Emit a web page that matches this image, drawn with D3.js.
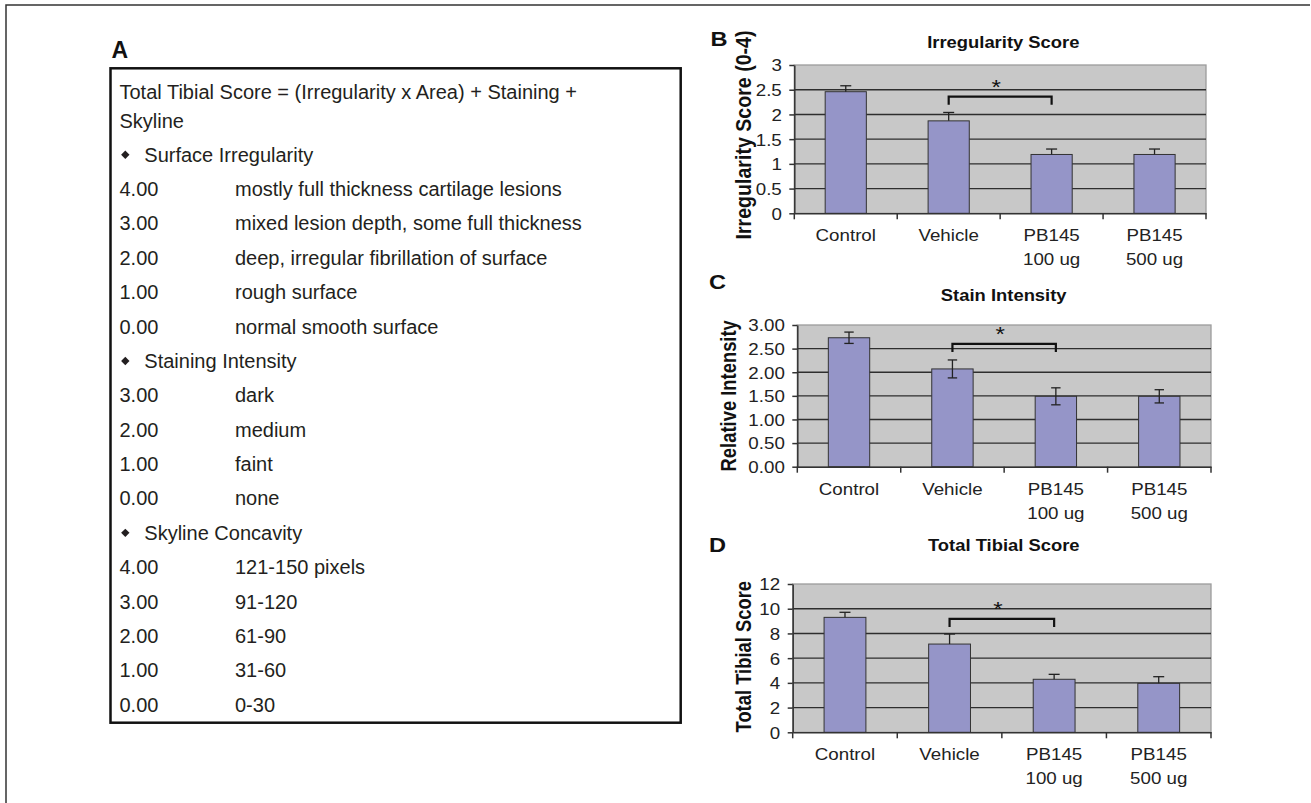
<!DOCTYPE html>
<html><head><meta charset="utf-8">
<script src="https://cdn.jsdelivr.net/npm/d3@7"></script>
<style>body{margin:0;background:#fff;} svg{display:block;}</style>
</head><body><svg id="c" width="1311" height="803"></svg>
<script>
// ---------------- DATA ----------------
const categories = ["Control", "Vehicle", "PB145 100 ug", "PB145 500 ug"];
const categoryLines = [["Control"], ["Vehicle"], ["PB145", "100 ug"], ["PB145", "500 ug"]];

const irregularityMeans = [2.46, 1.87, 1.19, 1.19];
const irregularityErr   = [0.12, 0.17, 0.11, 0.11];
const irregularityTicks = [0, 0.5, 1, 1.5, 2, 2.5, 3];

const stainMeans = [2.73, 2.07, 1.49, 1.49];
const stainErr   = [0.12, 0.19, 0.18, 0.14];
const stainTicks = [0, 0.5, 1, 1.5, 2, 2.5, 3];

const totalMeans = [9.30, 7.14, 4.29, 3.96];
const totalErr   = [0.41, 0.81, 0.40, 0.54];
const totalTicks = [0, 2, 4, 6, 8, 10, 12];

// significance bracket: from / to category and level (data units)
const irregularitySig = ["Vehicle", "PB145 100 ug", 2.36];
const stainSig        = ["Vehicle", "PB145 100 ug", 2.60];
const totalSig        = ["Vehicle", "PB145 100 ug", 9.17];

const tableHeader = ["Total Tibial Score = (Irregularity x Area) + Staining +", "Skyline"];
const sectionTitles = ["Surface Irregularity", "Staining Intensity", "Skyline Concavity"];
const irregularityScale = [["4.00", "mostly full thickness cartilage lesions"],
                           ["3.00", "mixed lesion depth, some full thickness"],
                           ["2.00", "deep, irregular fibrillation of surface"],
                           ["1.00", "rough surface"],
                           ["0.00", "normal smooth surface"]];
const stainingScale = [["3.00", "dark"], ["2.00", "medium"], ["1.00", "faint"], ["0.00", "none"]];
const skylineScale = [["4.00", "121-150 pixels"], ["3.00", "91-120"], ["2.00", "61-90"], ["1.00", "31-60"], ["0.00", "0-30"]];

// ---------------- DRAW ----------------
const FONT = '"Liberation Sans", Arial, Helvetica, sans-serif';
const SX = 1.15; // horizontal stretch of the chart panels
const svg = d3.select("#c").attr("font-family", FONT);

// outer frame (top + left)
svg.append("path").attr("d", "M6,803 L6,5 L1310,5").attr("fill", "none")
  .attr("stroke", "#333").attr("stroke-width", 1.5);

// ---- Panel A: table ----
const TXT = "#231f20";
svg.append("text").attr("x", 111.5).attr("y", 58.3).attr("font-size", 23).attr("font-weight", "bold")
  .attr("fill", "#111").text("A");
svg.append("rect").attr("x", 110.5).attr("y", 68.3).attr("width", 570.2).attr("height", 654.4)
  .attr("fill", "none").attr("stroke", "#111").attr("stroke-width", 2.5);

const tA = svg.append("g").attr("font-size", 20).attr("fill", TXT);
tA.append("text").attr("x", 119.5).attr("y", 99).text(tableHeader[0]);
tA.append("text").attr("x", 119.5).attr("y", 127.7).text(tableHeader[1]);

const rows = [];
[irregularityScale, stainingScale, skylineScale].forEach((sc, si) => {
  rows.push({ bullet: true, label: sectionTitles[si] });
  sc.forEach(r => rows.push({ bullet: false, score: r[0], label: r[1] }));
});
const rowY = i => 161.7 + 34.375 * i;
rows.forEach((r, i) => {
  const yy = rowY(i);
  if (r.bullet) {
    const cx = 125.3, cy = yy - 7;
    tA.append("path").attr("d", `M${cx},${cy - 4.2}L${cx + 4.2},${cy}L${cx},${cy + 4.2}L${cx - 4.2},${cy}Z`).attr("fill", TXT);
    tA.append("text").attr("x", 144.3).attr("y", yy).text(r.label);
  } else {
    tA.append("text").attr("x", 119.5).attr("y", yy).text(r.score);
    tA.append("text").attr("x", 235).attr("y", yy).text(r.label);
  }
});

// ---- Bar chart panels ----
function stretched(sel, x, y, extra) {
  return sel.attr("x", 0).attr("y", 0)
    .attr("transform", `translate(${x},${y}) scale(${SX},1)` + (extra || ""));
}

function drawChart(cfg) {
  const g = svg.append("g");
  const x = d3.scaleBand().domain(categories).range([cfg.left, cfg.right]).paddingInner(0.6).paddingOuter(0.3);
  const xb = d3.scaleBand().domain(categories).range([cfg.left, cfg.right]).padding(0);
  const ymax = d3.max(cfg.ticks);
  const y = d3.scaleLinear().domain([0, ymax]).range([cfg.bottom, cfg.top]);

  // panel letter
  stretched(g.append("text"), cfg.lx, cfg.ly).attr("font-size", 20.5).attr("font-weight", "bold")
    .attr("fill", "#111").text(cfg.letter);
  // title
  stretched(g.append("text"), cfg.tx, cfg.ty).attr("font-size", 16).attr("font-weight", "bold")
    .attr("text-anchor", "middle").attr("fill", "#111").text(cfg.title);

  // plot area
  g.append("rect").attr("x", cfg.left).attr("y", cfg.top).attr("width", cfg.right - cfg.left)
    .attr("height", cfg.bottom - cfg.top).attr("fill", "#c8c8c8").attr("stroke", "#9c9c9c").attr("stroke-width", 1.3);
  g.selectAll(".grid").data(cfg.ticks.filter(t => t > 0 && t < ymax)).join("line")
    .attr("x1", cfg.left).attr("x2", cfg.right).attr("y1", d => y(d)).attr("y2", d => y(d))
    .attr("stroke", "#2e2e2e").attr("stroke-width", 1.4);

  // bars
  g.selectAll(".bar").data(cfg.means).join("rect")
    .attr("x", (d, i) => x(categories[i])).attr("width", x.bandwidth())
    .attr("y", d => y(d)).attr("height", d => cfg.bottom - y(d))
    .attr("fill", "#9595c8").attr("stroke", "#333").attr("stroke-width", 1);

  // error bars
  const cxs = categories.map(c => x(c) + x.bandwidth() / 2);
  cfg.means.forEach((m, i) => {
    const hi = y(m + cfg.err[i]);
    const lo = cfg.both ? y(m - cfg.err[i]) : y(m);
    const cw = cfg.both ? 4.7 : 5.5;
    g.append("line").attr("x1", cxs[i]).attr("x2", cxs[i]).attr("y1", hi).attr("y2", lo)
      .attr("stroke", "#222").attr("stroke-width", 1.3);
    g.append("line").attr("x1", cxs[i] - cw).attr("x2", cxs[i] + cw).attr("y1", hi).attr("y2", hi)
      .attr("stroke", "#222").attr("stroke-width", 1.3);
    if (cfg.both) g.append("line").attr("x1", cxs[i] - cw).attr("x2", cxs[i] + cw).attr("y1", lo).attr("y2", lo)
      .attr("stroke", "#222").attr("stroke-width", 1.3);
  });

  // significance bracket
  const x1 = x(cfg.sig[0]) + x.bandwidth() / 2, x2 = x(cfg.sig[1]) + x.bandwidth() / 2;
  const yb = y(cfg.sig[2]);
  g.append("path").attr("d", `M${x1},${yb + 8}V${yb}H${x2}V${yb + 8}`).attr("fill", "none")
    .attr("stroke", "#111").attr("stroke-width", 2.2);
  stretched(g.append("text"), (x1 + x2) / 2 - 4, yb - 3).attr("font-size", 21).attr("text-anchor", "middle")
    .attr("fill", "#111").text("*");

  // y axis
  const ya = g.append("g").attr("transform", `translate(${cfg.left},0)`)
    .call(d3.axisLeft(y).tickValues(cfg.ticks).tickFormat(cfg.fmt).tickSize(5).tickSizeOuter(0))
    .attr("font-family", FONT);
  ya.select(".domain").attr("stroke", "#333").attr("stroke-width", 1.5);
  ya.selectAll(".tick line").attr("stroke", "#333").attr("stroke-width", 1.5);
  ya.selectAll(".tick text").attr("x", 0).attr("dy", "0.36em")
    .attr("transform", `translate(${-12.5},0) scale(${SX},1)`)
    .attr("font-size", 16.3).attr("fill", "#222");

  // x axis
  const xa = g.append("g").attr("transform", `translate(0,${cfg.bottom})`)
    .call(d3.axisBottom(xb).tickSize(0).tickSizeOuter(0))
    .attr("font-family", FONT);
  xa.select(".domain").attr("stroke", "#333").attr("stroke-width", 1.5);
  xa.selectAll(".tick text").each(function (d, i) {
    const t = d3.select(this).text(null).attr("x", 0).attr("y", 0).attr("dy", null)
      .attr("transform", `translate(0,28) scale(${SX},1)`).attr("font-size", 16.3).attr("fill", "#222");
    categoryLines[i].forEach((ln, k) => t.append("tspan").attr("x", 0).attr("dy", k === 0 ? 0 : 24).text(ln));
  });
  const bounds = categories.map(c => xb(c)).concat([cfg.right]);
  xa.selectAll(".bound").data(bounds).join("line")
    .attr("x1", d => d).attr("x2", d => d).attr("y1", 0).attr("y2", 6)
    .attr("stroke", "#333").attr("stroke-width", 1.5);

  // y axis title
  g.append("text").attr("x", 0).attr("y", 0).attr("dy", "0.36em")
    .attr("transform", `translate(${cfg.ytx},${cfg.yty}) scale(${SX},1) rotate(-90)`)
    .attr("font-size", cfg.ytsize).attr("font-weight", "bold").attr("text-anchor", "middle")
    .attr("fill", "#111").text(cfg.ytitle);
}

drawChart({ letter: "B", lx: 710.5, ly: 46, title: "Irregularity Score", tx: 1003.3, ty: 48.3,
  left: 794.3, right: 1206, top: 65, bottom: 213.3, ytx: 743.3, yty: 135, ytsize: 19.6,
  ytitle: "Irregularity Score (0-4)",
  means: irregularityMeans, err: irregularityErr, ticks: irregularityTicks, fmt: d3.format(""),
  sig: irregularitySig, both: false });

drawChart({ letter: "C", lx: 709, ly: 289, title: "Stain Intensity", tx: 1003.7, ty: 300.7,
  left: 797.3, right: 1211, top: 325, bottom: 466.7, ytx: 728.3, yty: 395.8, ytsize: 18.4,
  ytitle: "Relative Intensity",
  means: stainMeans, err: stainErr, ticks: stainTicks, fmt: d3.format(".2f"),
  sig: stainSig, both: true });

drawChart({ letter: "D", lx: 709, ly: 552, title: "Total Tibial Score", tx: 1003.8, ty: 551,
  left: 792.7, right: 1211, top: 584, bottom: 732.3, ytx: 743.3, yty: 656.7, ytsize: 18.4,
  ytitle: "Total Tibial Score",
  means: totalMeans, err: totalErr, ticks: totalTicks, fmt: d3.format(""),
  sig: totalSig, both: false });
</script></body></html>
